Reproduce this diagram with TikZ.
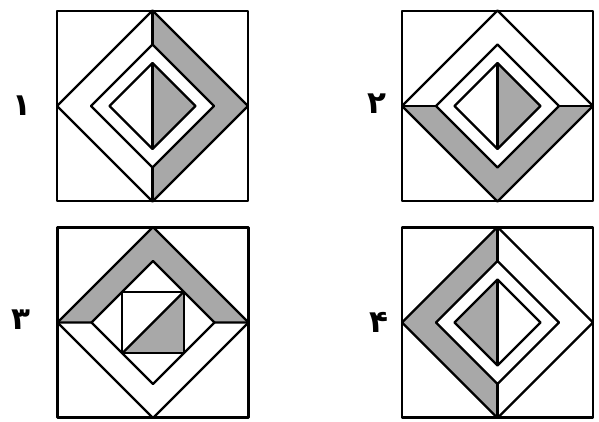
\documentclass[tikz,border=0pt]{standalone}
\usepackage{fontspec}
\usepackage{xcolor}
\usepackage{tikz}
\newfontfamily\farsi[Script=Arabic]{DejaVu Sans}
\definecolor{xam}{RGB}{168,168,168}

\begin{document}
\begin{tikzpicture}[x=1pt, y=-1pt, line join=round,
    net/.style={line width=2.3pt},
    toxam/.style={fill=xam},
    so/.style={font=\farsi\bfseries\fontsize{31}{31}\selectfont, inner sep=0pt},
    % Khung chung: hình vuông và hai hình thoi
    khung/.pic={
        \draw[net] (-95.5,-95) rectangle (95.5,95);
        \foreach \r in {95.5,61.5}
            \draw[net] (0,-\r) -- (\r,0) -- (0,\r) -- (-\r,0) -- cycle;
    }]
    \useasboundingbox (0,0) rectangle (599,422);

    % Hình 1: dải bên phải và nửa phải hình thoi nhỏ
    \begin{scope}[shift={(152.5,106)}]
        \fill[toxam] (0,-95.5) -- (95.5,0) -- (0,95.5) -- (0,61.5) -- (61.5,0) -- (0,-61.5) -- cycle;
        \fill[toxam] (0,-43) -- (43,0) -- (0,43) -- cycle;
        \pic {khung};
        \draw[net] (0,-43) -- (43,0) -- (0,43) -- (-43,0) -- cycle;
        \draw[net] (0,-95.5) -- (0,-61.5) (0,61.5) -- (0,95.5) (0,-43) -- (0,43);
    \end{scope}
    \node[so] (l1) at (22,106) {۱};

    % Hình 2: dải phía dưới
    \begin{scope}[shift={(497.5,106)}]
        \fill[toxam] (-95.5,0) -- (0,95.5) -- (95.5,0) -- (61.5,0) -- (0,61.5) -- (-61.5,0) -- cycle;
        \fill[toxam] (0,-43) -- (43,0) -- (0,43) -- cycle;
        \pic {khung};
        \draw[net] (0,-43) -- (43,0) -- (0,43) -- (-43,0) -- cycle;
        \draw[net] (-95.5,0) -- (-61.5,0) (61.5,0) -- (95.5,0) (0,-43) -- (0,43);
    \end{scope}
    \node[so] (l2) at (377,104) {۲};

    % Hình 3: dải phía trên, hình vuông nội tiếp
    \begin{scope}[shift={(153,322.5)}]
        \fill[toxam] (-95.5,0) -- (0,-95.5) -- (95.5,0) -- (61.5,0) -- (0,-61.5) -- (-61.5,0) -- cycle;
        \fill[toxam] (-30.75,30.75) -- (30.75,30.75) -- (30.75,-30.75) -- cycle;
        \pic {khung};
        \draw[net] (-30.75,-30.75) rectangle (30.75,30.75);
        \draw[net] (-95.5,0) -- (-61.5,0) (61.5,0) -- (95.5,0) (-30.75,30.75) -- (30.75,-30.75);
    \end{scope}
    \node[so] (l3) at (21,320) {۳};

    % Hình 4: dải bên trái và nửa trái hình thoi nhỏ
    \begin{scope}[shift={(497.5,322.5)}]
        \fill[toxam] (0,-95.5) -- (-95.5,0) -- (0,95.5) -- (0,61.5) -- (-61.5,0) -- (0,-61.5) -- cycle;
        \fill[toxam] (0,-43) -- (-43,0) -- (0,43) -- cycle;
        \pic {khung};
        \draw[net] (0,-43) -- (43,0) -- (0,43) -- (-43,0) -- cycle;
        \draw[net] (0,-95.5) -- (0,-61.5) (0,61.5) -- (0,95.5) (0,-43) -- (0,43);
    \end{scope}
    \node[so] (l4) at (379,322) {۴};
\end{tikzpicture}
\end{document}
